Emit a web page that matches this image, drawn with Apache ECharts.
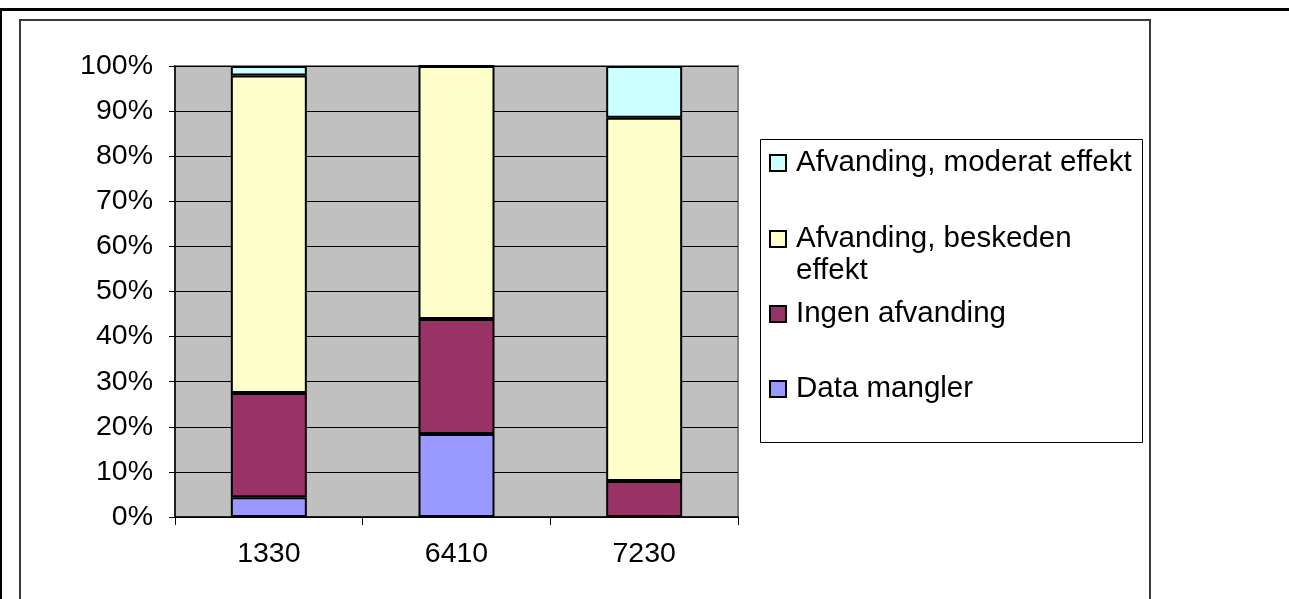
<!DOCTYPE html>
<html>
<head>
<meta charset="utf-8">
<script src="https://cdn.jsdelivr.net/npm/echarts@6/dist/echarts.min.js"></script>
<style>
html,body{margin:0;padding:0;background:#fff;}
#chart{width:1289px;height:599px;}
</style>
</head>
<body>
<div id="chart"></div>
<script>
const categories = ['1330', '6410', '7230'];
const dataMangler = [4.4, 18.4, 0];
const ingenAfvanding = [23.1, 25.5, 8.0];
const beskedenEffekt = [70.4, 56.1, 80.5];
const moderatEffekt = [2.1, 0, 11.5];
const seriesNames = ['Data mangler', 'Ingen afvanding', 'Afvanding, beskeden effekt', 'Afvanding, moderat effekt'];
const seriesColors = ['#9999FF', '#993366', '#FFFFCC', '#CCFFFF'];
const seriesValues = [dataMangler, ingenAfvanding, beskedenEffekt, moderatEffekt];

const FONT = 'Liberation Sans, Arial, sans-serif';
const chart = echarts.init(document.getElementById('chart'), null, {renderer: 'canvas'});

function legendFor(name, top, formatter, lh) {
  return {
    data: [name],
    left: 769,
    top: top,
    padding: 0,
    orient: 'vertical',
    itemWidth: 16,
    itemHeight: 16,
    icon: 'rect',
    selectedMode: false,
    formatter: formatter,
    textStyle: {
      fontFamily: FONT,
      fontSize: 29.5,
      color: '#000',
      lineHeight: lh,
      padding: [0, 0, 0, 5]
    },
    z: 10
  };
}

const option = {
  backgroundColor: '#fff',
  animation: false,
  graphic: [
    {type: 'rect', shape: {x: 0, y: 8, width: 1289, height: 3}, style: {fill: '#000'}, z: -10, silent: true},
    {type: 'rect', shape: {x: 0, y: 8, width: 2, height: 600}, style: {fill: '#000'}, z: -10, silent: true},
    {type: 'rect', shape: {x: 20, y: 20, width: 1130, height: 620}, style: {fill: '#fff', stroke: '#3a3a3a', lineWidth: 2}, z: -9, silent: true},
    {type: 'rect', shape: {x: 760.5, y: 139.5, width: 382, height: 303}, style: {fill: '#fff', stroke: '#000', lineWidth: 1}, z: -8, silent: true}
  ],
  legend: [
    legendFor(seriesNames[3], 147, '{name}', 32),
    legendFor(seriesNames[2], 191, function () { return ' \nAfvanding, beskeden\neffekt'; }, 32),
    legendFor(seriesNames[1], 298, '{name}', 32),
    legendFor(seriesNames[0], 373, '{name}', 32)
  ],
  grid: {
    left: 175,
    top: 66,
    width: 563,
    height: 451,
    show: true,
    backgroundColor: '#C0C0C0',
    borderColor: '#808080',
    borderWidth: 2,
    containLabel: false
  },
  xAxis: {
    type: 'category',
    data: categories,
    axisLine: {lineStyle: {color: '#000', width: 1.5}},
    axisTick: {show: true, length: 8, interval: 0, lineStyle: {color: '#000'}},
    axisLabel: {fontFamily: FONT, fontSize: 28.5, color: '#000', margin: 23}
  },
  yAxis: {
    type: 'value',
    min: 0,
    max: 100,
    interval: 10,
    axisLine: {show: true, lineStyle: {color: '#000', width: 1.5}},
    axisTick: {show: true, length: 6, lineStyle: {color: '#000'}},
    axisLabel: {fontFamily: FONT, fontSize: 28.5, color: '#000', margin: 22, formatter: '{value}%'},
    splitLine: {show: true, lineStyle: {color: '#000', width: 1}}
  },
  series: seriesValues.map(function (vals, i) {
    return {
      name: seriesNames[i],
      type: 'bar',
      stack: 'total',
      barWidth: 76,
      data: vals,
      itemStyle: {color: seriesColors[i], borderColor: '#000', borderWidth: 2}
    };
  })
};
chart.setOption(option);
</script>
</body>
</html>
